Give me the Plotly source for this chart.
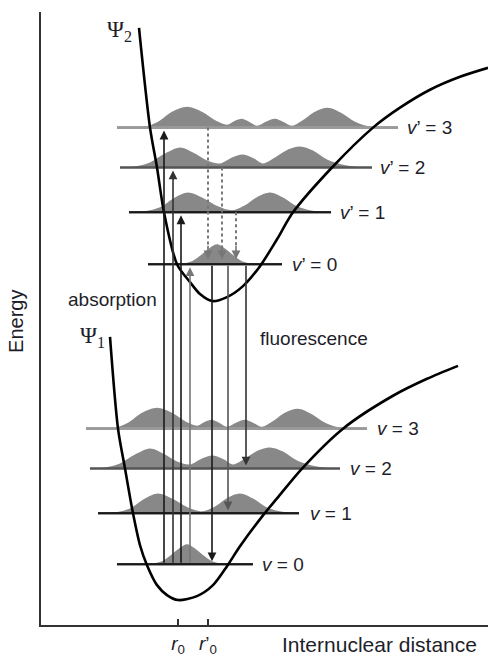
import plotly.graph_objects as go

# ---------------- data (internuclear distance r, energy E; arbitrary units) ----------------
r0 = 137
r0_prime = 167

# ground-state potential Psi_1
psi1_r = [69, 77, 84, 92, 99, 106, 116, 126, 137, 156, 172, 186, 199, 222, 236, 261, 302, 352, 386, 417]
psi1_E = [289, 197, 157, 112, 80, 60, 40, 30, 25, 29, 40, 59, 79, 110, 127, 157, 197, 230, 247, 260]

# excited-state potential Psi_2
psi2_r = [98, 109, 116, 123, 136, 149, 159, 171, 186, 202, 219, 236, 252, 291, 332, 359, 389, 419, 447]
psi2_E = [599, 499, 459, 414, 362, 344, 332, 325, 329, 340, 360, 387, 414, 459, 499, 519, 537, 550, 559]

# vibrational levels
lower_levels = [61, 112, 157, 197]
lower_start = [76, 57, 49, 45]
lower_end = [212, 258, 299, 326]
lower_labels = ["<i>v</i> = 0", "<i>v</i> = 1", "<i>v</i> = 2", "<i>v</i> = 3"]
lower_label_r = [219, 267, 307, 334]

upper_levels = [362, 414, 459, 499]
upper_start = [107, 88, 79, 76]
upper_end = [241, 290, 331, 357]
upper_labels = ["<i>v</i>’ = 0", "<i>v</i>’ = 1", "<i>v</i>’ = 2", "<i>v</i>’ = 3"]
upper_label_r = [249, 297, 337, 364]

level_colors = ["#1a1a1a", "#1a1a1a", "#555555", "#9a9a9a"]
level_widths = [2, 2, 2.2, 2.6]

# probability densities (ground-state positions; excited ones displaced by r0' - r0)
wave_r = [
    [101, 111, 121, 131, 139, 146, 153, 161, 171, 181, 191],
    [59, 74, 89, 104, 117, 131, 147, 161, 174, 187, 199, 212, 226, 239, 254],
    [49, 64, 79, 94, 109, 122, 136, 149, 161, 172, 183, 192, 204, 217, 229, 242, 256, 271, 292],
    [59, 74, 87, 101, 116, 131, 145, 156, 164, 171, 178, 186, 195, 204, 212, 221, 231, 244, 257, 270, 284, 299, 314],
]
wave_h = [
    [0, 0.6, 3, 10, 16.5, 20, 16.5, 10, 3, 0.6, 0],
    [0, 1, 5, 15, 20, 15, 6, 2, 7, 16, 20, 15, 6, 2, 0],
    [0, 1, 5, 14, 20, 15, 7, 4, 10, 13, 9, 4, 10, 18, 21, 17, 8, 3, 0],
    [0, 1, 6, 16, 21, 16, 7, 3, 7, 9, 6, 2, 6, 9, 6, 2, 7, 16, 20, 15, 6, 1, 0],
]

# transitions
absorption_r = [123, 132, 140, 149]
absorption_to = [3, 2, 1, 0]
absorption_colors = ["#1a1a1a", "#333333", "#1a1a1a", "#777777"]

fluor_r = [171, 187, 205]
fluor_to = [0, 1, 2]
fluor_colors = ["#1a1a1a", "#555555", "#333333"]

relax_r = [167, 181, 195]
relax_from = [3, 2, 1]

# ---------------- figure ----------------
fig = go.Figure()
wave_color = "#888888"


def add_level(E, rs, re, color, lw, wr, wh, shift):
    fig.add_trace(go.Scatter(x=[rs, re], y=[E, E], mode="lines",
                             line=dict(color=color, width=lw), hoverinfo="skip"))
    fig.add_trace(go.Scatter(x=[x + shift for x in wr], y=[E + h for h in wh], mode="lines",
                             line=dict(color=wave_color, width=0, shape="spline", smoothing=0.9),
                             fill="tonexty", fillcolor=wave_color, hoverinfo="skip"))


for i in range(4):
    add_level(lower_levels[i], lower_start[i], lower_end[i], level_colors[i], level_widths[i],
              wave_r[i], wave_h[i], 0)
    add_level(upper_levels[i], upper_start[i], upper_end[i], level_colors[i], level_widths[i],
              wave_r[i], wave_h[i], r0_prime - r0)

# redraw level lines on top of fills
for i in range(4):
    fig.add_trace(go.Scatter(x=[lower_start[i], lower_end[i]], y=[lower_levels[i]] * 2, mode="lines",
                             line=dict(color=level_colors[i], width=level_widths[i]), hoverinfo="skip"))
    fig.add_trace(go.Scatter(x=[upper_start[i], upper_end[i]], y=[upper_levels[i]] * 2, mode="lines",
                             line=dict(color=level_colors[i], width=level_widths[i]), hoverinfo="skip"))

# potential curves
for rr, ee in [(psi1_r, psi1_E), (psi2_r, psi2_E)]:
    fig.add_trace(go.Scatter(x=rr, y=ee, mode="lines",
                             line=dict(color="black", width=2.6, shape="spline", smoothing=0.8),
                             hoverinfo="skip"))

# dotted relaxation shafts
for x, lv in zip(relax_r, relax_from):
    fig.add_trace(go.Scatter(x=[x, x], y=[upper_levels[lv], upper_levels[0] + 16], mode="lines",
                             line=dict(color="#777777", width=2, dash="dot"), hoverinfo="skip"))

annotations = []


def arrow(x, y0, y1, color, width=1.6):
    annotations.append(dict(x=x, y=y1, ax=x, ay=y0, xref="x", yref="y", axref="x", ayref="y",
                            text="", showarrow=True, arrowhead=2, arrowsize=1.1,
                            arrowwidth=width, arrowcolor=color, standoff=0, startstandoff=0))


for x, lv, c in zip(absorption_r, absorption_to, absorption_colors):
    arrow(x, lower_levels[0], upper_levels[lv] - 3, c)
for x, lv, c in zip(fluor_r, fluor_to, fluor_colors):
    arrow(x, upper_levels[0], lower_levels[lv] + 3, c)
for x in relax_r:
    arrow(x, upper_levels[0] + 20, upper_levels[0] + 5, "#777777", 1.6)

txt_font = dict(family="Liberation Sans, Arial, sans-serif", size=19, color="#1e1e2a")

for lab, xr, E in zip(lower_labels, lower_label_r, lower_levels):
    annotations.append(dict(x=xr, y=E, xref="x", yref="y", text=lab, showarrow=False,
                            xanchor="left", yanchor="middle", font=txt_font))
for lab, xr, E in zip(upper_labels, upper_label_r, upper_levels):
    annotations.append(dict(x=xr, y=E, xref="x", yref="y", text=lab, showarrow=False,
                            xanchor="left", yanchor="middle", font=txt_font))

serif = dict(family="Liberation Serif, Times New Roman, serif", size=23, color="#1e1e2a")
annotations.append(dict(x=64, y=612, xref="x", yref="y", text="Ψ<sub>2</sub>", showarrow=False,
                        xanchor="left", yanchor="top", font=serif))
annotations.append(dict(x=37, y=305, xref="x", yref="y", text="Ψ<sub>1</sub>", showarrow=False,
                        xanchor="left", yanchor="top", font=serif))
annotations.append(dict(x=25, y=327, xref="x", yref="y", text="absorption", showarrow=False,
                        xanchor="left", yanchor="middle", font=txt_font))
annotations.append(dict(x=217, y=287, xref="x", yref="y", text="fluorescence", showarrow=False,
                        xanchor="left", yanchor="middle", font=txt_font))
annotations.append(dict(x=-0.056, y=0.496, xref="paper", yref="paper", text="Energy", showarrow=False,
                        textangle=-90, xanchor="center", yanchor="middle",
                        font=dict(family="Liberation Sans, Arial, sans-serif", size=20, color="#1e1e2a")))
annotations.append(dict(x=0.758, y=-0.031, xref="paper", yref="paper", text="Internuclear distance",
                        showarrow=False, xanchor="center", yanchor="middle",
                        font=dict(family="Liberation Sans, Arial, sans-serif", size=21, color="#1e1e2a")))

fig.update_layout(
    width=488, height=657,
    margin=dict(l=41, r=0, t=12, b=30, pad=0),
    plot_bgcolor="white", paper_bgcolor="white",
    showlegend=False,
    annotations=annotations,
    xaxis=dict(range=[0, 447], showline=True, linecolor="#333333", linewidth=1.5,
               showgrid=False, zeroline=False, ticks="inside", ticklen=6, tickwidth=1.5,
               tickcolor="#333333", tickvals=[r0, r0_prime],
               ticktext=["<i>r</i><sub>0</sub>", "<i>r</i>’<sub>0</sub>"],
               tickfont=dict(family="Liberation Sans, Arial, sans-serif", size=19, color="#1e1e2a"),
               fixedrange=True),
    yaxis=dict(range=[0, 615], showline=True, linecolor="#333333", linewidth=1.5,
               showgrid=False, zeroline=False, showticklabels=False, ticks="", fixedrange=True),
)

fig.write_html("out.html", config={"displayModeBar": False},
               post_script="document.body.style.margin='0';document.body.style.overflow='hidden';")
